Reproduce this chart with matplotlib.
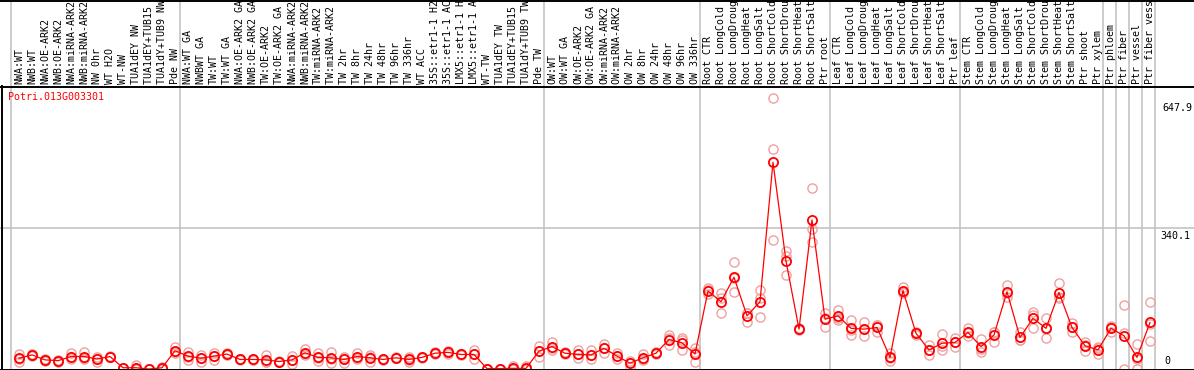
import matplotlib
matplotlib.use("Agg")
import matplotlib.pyplot as plt
from matplotlib.lines import Line2D
import numpy as np

gene = "Potri.013G003301"

labels = [
    "NWA:WT", "NWB:WT", "NWA:OE-ARK2", "NWB:OE-ARK2", "NWA:miRNA-ARK2", "NWB:miRNA-ARK2",
    "NW 0hr", "WT H2O", "WT-NW", "TUA1dEY NW", "TUA1dEY+TUB15 NW", "TUA1dY+TUB9 NW", "Pde NW",
    "NWA:WT GA", "NWBWT GA", "TW:WT", "TW:WT GA", "NWA:OE-ARK2 GA", "NWB:OE-ARK2 GA",
    "TW:OE-ARK2", "TW:OE-ARK2 GA", "NWA:miRNA-ARK2", "NWB:miRNA-ARK2", "TW:miRNA-ARK2",
    "TW:miRNA-ARK2 GA", "TW 2hr", "TW 8hr", "TW 24hr", "TW 48hr", "TW 96hr", "TW 336hr",
    "WT ACC", "35S::etr1-1 H2O", "35S::etr1-1 ACC", "LMX5::etr1-1 H2O", "LMX5::etr1-1 ACC",
    "WT-TW", "TUA1dEY TW", "TUA1dEY+TUB15 TW", "TUA1dY+TUB9 TW", "Pde TW",
    "OW:WT", "OW:WT GA", "OW:OE-ARK2", "OW:OE-ARK2 GA", "OW:miRNA-ARK2", "OW:miRNA-ARK2 GA",
    "OW 2hr", "OW 8hr", "OW 24hr", "OW 48hr", "OW 96hr", "OW 336hr",
    "Root CTR", "Root LongCold", "Root LongDrought", "Root LongHeat", "Root LongSalt",
    "Root ShortCold", "Root ShortDrought", "Root ShortHeat", "Root ShortSalt", "Ptr root",
    "Leaf CTR", "Leaf LongCold", "Leaf LongDrought", "Leaf LongHeat", "Leaf LongSalt",
    "Leaf ShortCold", "Leaf ShortDrought", "Leaf ShortHeat", "Leaf ShortSalt", "Ptr leaf",
    "Stem CTR", "Stem LongCold", "Stem LongDrought", "Stem LongHeat", "Stem LongSalt",
    "Stem ShortCold", "Stem ShortDrought", "Stem ShortHeat", "Stem ShortSalt",
    "Ptr shoot", "Ptr xylem", "Ptr phloem", "Ptr fiber", "Ptr vessel", "Ptr fiber vessel",
]

means = [
    26, 34, 22, 20, 30, 30, 24, 30, 3, 3, 0, 3, 44,
    31, 26, 31, 36, 23, 23, 22, 18, 22, 39, 28, 27, 23, 30, 27, 23, 27, 23,
    28, 38, 40, 35, 35, 1, 1, 1.5, 1.5, 43,
    54, 38, 35, 34, 50, 31, 14, 27, 38, 71, 63, 36,
    188, 162, 221, 128, 162, 498, 260, 96, 359, 120,
    128, 98, 96, 100, 28, 189, 86, 46, 62, 64,
    88, 54, 82, 186, 76, 122, 98, 184, 100,
    56, 46, 98, 80, 28, 112,
]

reps = [
    [36, 24, 18], [34, 36, 32], [22, 24, 20], [20, 22, 18], [38, 28, 24], [40, 26, 24],
    [30, 24, 18], [30, 32, 28], [3, 3, 3], [9, 0, 0], [0, 0, 0], [3, 6, 0], [52, 42, 38],
    [42, 30, 21], [34, 26, 18], [38, 32, 21], [38, 36, 34], [24, 23, 22], [25, 22, 22],
    [34, 16, 16], [20, 18, 16], [31, 22, 13], [47, 37, 34], [38, 26, 20], [42, 24, 15],
    [30, 25, 14], [38, 28, 24], [34, 28, 18], [25, 22, 22], [28, 27, 26], [30, 22, 17],
    [30, 28, 26], [40, 38, 36], [43, 40, 37], [37, 35, 33], [46, 36, 23], [1, 1, 1],
    [1, 1, 1], [7, 0, 0], [7, 0, 0], [55, 44, 30],
    [66, 50, 46], [40, 38, 36], [46, 35, 26], [46, 33, 23], [60, 50, 39], [38, 32, 23],
    [20, 15, 6], [36, 24, 22], [40, 38, 36], [82, 74, 58], [74, 70, 46], [50, 40, 18],
    [195, 190, 180], [182, 170, 134], [258, 219, 186], [136, 136, 112], [190, 170, 126],
    [652, 529, 311], [284, 273, 227], [98, 96, 94], [435, 336, 306], [136, 122, 102],
    [142, 124, 118], [118, 94, 82], [112, 96, 80], [106, 106, 88], [38, 26, 20],
    [198, 186, 183], [90, 86, 82], [58, 46, 34], [84, 56, 46], [74, 66, 52],
    [98, 86, 80], [72, 48, 42], [90, 90, 64], [202, 182, 174], [88, 70, 70],
    [138, 130, 98], [124, 96, 75], [206, 174, 172], [110, 100, 90],
    [66, 58, 44], [50, 52, 36], [104, 100, 90], [154, 86, 0], [60, 24, 0], [161, 108, 67],
]

group_ends = [-1, 12, 40, 52, 62, 72, 83, 84, 85, 86, 87]
ymax = 647.9
ygrid = 340.1

W, H = 1194, 370
x0, sx = 19.0, 13.0          # pixel of first sample, pixel step
s = 269 / ymax               # pixels per unit

plt.rcParams['font.family'] = ['DejaVu Sans Mono']
fs = 7.2

fig = plt.figure(figsize=(W / 100, H / 100), dpi=100)
ax = fig.add_axes([0, 0, 1, 1])
ax.axis('off')
ax.set_xlim(-x0 / sx, (W - x0) / sx)
ax.set_ylim(-1 / s, (H - 1) / s)

xs = np.arange(len(means))

# separators and grid
for g in group_ends:
    ax.axvline(g + 5 / sx, color='#c4c4c4', lw=1.2, zorder=1)
ax.axhline(ygrid, color='#c4c4c4', lw=1.2, zorder=1)

# frame lines (pixel rows)
def hline(row):
    y = (H - row - 0.5) / H
    fig.add_artist(Line2D([0, 1], [y, y], color='black', lw=1.4, transform=fig.transFigure))

hline(0)
hline(86)
hline(369)
fig.add_artist(Line2D([1.5 / W, 1.5 / W], [0, (H - 86) / H], color='black', lw=1.4,
                      transform=fig.transFigure))

# replicates
rx = np.repeat(xs, 3)
ry = np.array(reps).ravel()
ax.plot(rx, ry, 'o', ls='none', ms=6.6, mfc='none', mec='#f0a0a0', mew=1.0,
        clip_on=False, zorder=2)

# mean line and markers
ax.plot(xs, means, '-', color='red', lw=0.9, zorder=3, clip_on=False)
ax.plot(xs, means, 'o', ls='none', ms=6.6, mfc='none', mec='red', mew=1.3,
        clip_on=False, zorder=4)

# sample labels
tr = ax.get_xaxis_transform()
for i, lab in enumerate(labels):
    ax.text(i, (H - 84) / H, lab, rotation=90, ha='center', va='bottom',
            fontsize=fs, transform=tr)

# gene name
fig.text(8 / W, (H - 97) / H, gene, color='red', fontsize=fs, va='center', ha='left')

# right value labels
xr = (1162 - x0) / sx
ax.annotate(f"{ymax}", (xr, ymax), xytext=(0, -2), textcoords='offset points',
            ha='left', va='top', fontsize=fs)
ax.annotate(f"{ygrid}", (xr - 2 / sx, ygrid), xytext=(0, -2), textcoords='offset points',
            ha='left', va='top', fontsize=fs)
ax.annotate("0", (xr + 2 / sx, 0), xytext=(0, 2), textcoords='offset points',
            ha='left', va='bottom', fontsize=fs)

fig.savefig("out.png", dpi=100)
